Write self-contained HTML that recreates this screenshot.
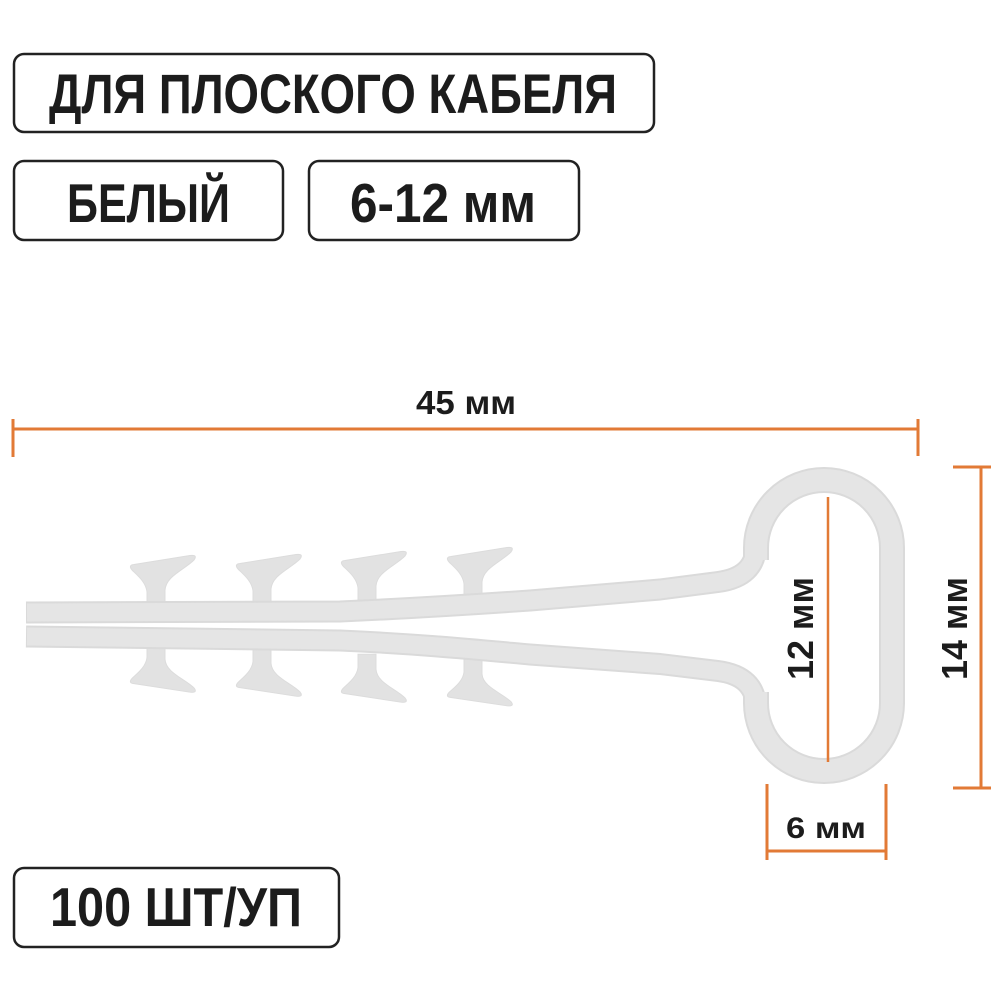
<!DOCTYPE html>
<html>
<head>
<meta charset="utf-8">
<style>
  html, body { margin: 0; padding: 0; background: #ffffff; }
  body { width: 1000px; height: 1000px; overflow: hidden; }
  svg { display: block; }
  .lbl { font-family: "Liberation Sans", "DejaVu Sans", sans-serif; font-weight: bold; fill: #1c1c1c; }
</style>
</head>
<body>
<svg width="1000" height="1000" viewBox="0 0 1000 1000" xmlns="http://www.w3.org/2000/svg">
  <rect x="0" y="0" width="1000" height="1000" fill="#ffffff"/>

  <!-- Label boxes -->
  <g fill="none" stroke="#222222" stroke-width="2.5">
    <rect x="14" y="54" width="640" height="78" rx="10" ry="10"/>
    <rect x="14" y="161" width="269" height="79" rx="10" ry="10"/>
    <rect x="309" y="161" width="270" height="79" rx="10" ry="10"/>
    <rect x="14" y="868" width="325" height="79" rx="10" ry="10"/>
  </g>
  <text class="lbl" x="49" y="113" font-size="56" textLength="568" lengthAdjust="spacingAndGlyphs">ДЛЯ ПЛОСКОГО КАБЕЛЯ</text>
  <text class="lbl" x="67" y="222" font-size="55" textLength="163" lengthAdjust="spacingAndGlyphs">БЕЛЫЙ</text>
  <text class="lbl" x="350" y="222" font-size="55" textLength="186" lengthAdjust="spacingAndGlyphs">6-12 мм</text>
  <text class="lbl" x="50" y="926" font-size="55" textLength="252" lengthAdjust="spacingAndGlyphs">100 ШТ/УП</text>

  <!-- Product: teeth -->
  <defs>
    <path id="tooth" d="M -9 4 L -9 -10 C -10 -20 -19 -27 -24 -32 Q -28 -37 -22 -37.5 L 34 -46.5 Q 42 -47.5 38 -42 C 28 -32 10 -26 9 -12 L 9 4 Z"/>
  </defs>
  <g fill="#e2e2e2" stroke="#dcdcdc" stroke-width="1">
    <use href="#tooth" transform="translate(156,602)"/>
    <use href="#tooth" transform="translate(262,601)"/>
    <use href="#tooth" transform="translate(367,598)"/>
    <use href="#tooth" transform="translate(473,594)"/>
    <use href="#tooth" transform="translate(156,648) scale(1,-0.95)"/>
    <use href="#tooth" transform="translate(262,652) scale(1,-0.95)"/>
    <use href="#tooth" transform="translate(367,658) scale(1,-0.95)"/>
    <use href="#tooth" transform="translate(473,663) scale(1,-0.92)"/>
  </g>

  <!-- Product: arms and loop (edge layer) -->
  <g fill="none" stroke="#dadada" stroke-linejoin="round">
    <path stroke-width="22" stroke-linecap="butt" d="M 26 612.5 L 340 611.5 C 420 608 480 604 530 600.5 L 660 589.5 L 718 582 Q 756 577 756 545"/>
    <path stroke-width="22" stroke-linecap="butt" d="M 756 708 Q 756 676 718 671 L 660 664 L 530 654.5 C 480 650 420 644 340 640.5 L 26 636.5"/>
    <path stroke-width="26" d="M 756 560 L 756 548 A 68 68 0 0 1 892 548 L 892 703 A 68 68 0 0 1 756 703 L 756 692"/>
  </g>
  <!-- Product: arms and loop (core) -->
  <g fill="none" stroke="#e5e5e5" stroke-linejoin="round">
    <path stroke-width="18" stroke-linecap="butt" d="M 27 612.5 L 340 611.5 C 420 608 480 604 530 600.5 L 660 589.5 L 718 582 Q 756 577 756 545"/>
    <path stroke-width="18" stroke-linecap="butt" d="M 756 708 Q 756 676 718 671 L 660 664 L 530 654.5 C 480 650 420 644 340 640.5 L 27 636.5"/>
    <path stroke-width="22" d="M 756 560 L 756 548 A 68 68 0 0 1 892 548 L 892 703 A 68 68 0 0 1 756 703 L 756 692"/>
  </g>

  <!-- Dimension lines -->
  <g stroke="#e27a36" stroke-width="3" fill="none" stroke-linecap="butt">
    <!-- 45 mm -->
    <line x1="13" y1="429" x2="918" y2="429"/>
    <line x1="13" y1="419" x2="13" y2="457"/>
    <line x1="918" y1="419" x2="918" y2="456"/>
    <!-- 14 mm -->
    <line x1="981" y1="467" x2="981" y2="788"/>
    <line x1="953" y1="467" x2="991" y2="467"/>
    <line x1="953" y1="788" x2="991" y2="788"/>
    <!-- 6 mm -->
    <line x1="767" y1="851" x2="886" y2="851"/>
    <line x1="767" y1="784" x2="767" y2="860"/>
    <line x1="886" y1="784" x2="886" y2="860"/>
    <!-- 12 mm -->
    <line x1="828" y1="497" x2="828" y2="762" stroke-width="2.5"/>
  </g>

  <!-- Dimension labels -->
  <text class="lbl" x="416" y="414" font-size="33" textLength="100" lengthAdjust="spacingAndGlyphs">45 мм</text>
  <text class="lbl" x="786" y="838" font-size="30" textLength="80" lengthAdjust="spacingAndGlyphs">6 мм</text>
  <text class="lbl" transform="translate(813,680) rotate(-90)" x="0" y="0" font-size="36" textLength="103" lengthAdjust="spacingAndGlyphs">12 мм</text>
  <text class="lbl" transform="translate(967,680) rotate(-90)" x="0" y="0" font-size="36" textLength="103" lengthAdjust="spacingAndGlyphs">14 мм</text>
</svg>
</body>
</html>
